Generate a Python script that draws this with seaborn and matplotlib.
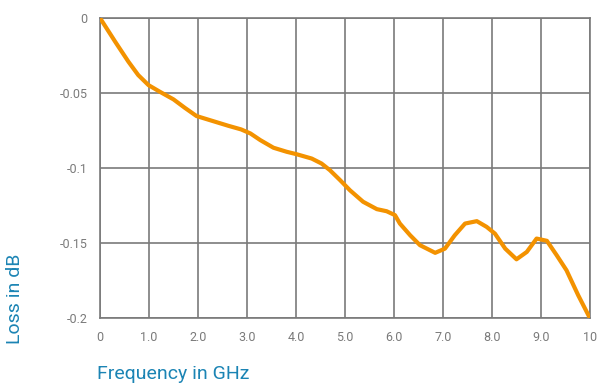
import matplotlib
matplotlib.use("Agg")
import matplotlib.pyplot as plt
import seaborn as sns
import pandas as pd

# Insertion loss measured over frequency
freq_ghz = [0.0, 0.31, 0.58, 0.78, 0.99, 1.22, 1.50, 1.73, 1.97, 2.28, 2.62, 2.88,
            3.07, 3.27, 3.54, 3.81, 4.01, 4.32, 4.52, 4.69, 4.90, 5.10, 5.37,
            5.65, 5.85, 6.02, 6.12, 6.33, 6.53, 6.84, 7.04, 7.24, 7.45, 7.69,
            7.89, 8.06, 8.27, 8.50, 8.71, 8.91, 9.12, 9.32, 9.52, 9.76, 10.0]
loss_db = [0.0, -0.0158, -0.0291, -0.038, -0.0447, -0.0491, -0.0542, -0.0598,
           -0.0653, -0.0684, -0.0718, -0.0742, -0.0769, -0.0813, -0.0864, -0.0891,
           -0.0907, -0.0936, -0.0969, -0.1013, -0.108, -0.1147, -0.1224, -0.1273,
           -0.1287, -0.1313, -0.1369, -0.1447, -0.1513, -0.1564, -0.1536, -0.1447,
           -0.1369, -0.1353, -0.1391, -0.1436, -0.1536, -0.1607, -0.1558, -0.1469,
           -0.1484, -0.158, -0.168, -0.1847, -0.2]

x_ticks = [0, 1, 2, 3, 4, 5, 6, 7, 8, 9, 10]
x_tick_labels = ["0", "1.0", "2.0", "3.0", "4.0", "5.0", "6.0", "7.0", "8.0", "9.0", "10"]
y_ticks = [0, -0.05, -0.1, -0.15, -0.2]
y_tick_labels = ["0", "-0.05", "-0.1", "-0.15", "-0.2"]

sns.set_theme(style="white")
plt.rcParams["font.family"] = ["Roboto", "DejaVu Sans"]

grid_col = "#7a7a7a"
text_col = "#7a7a7a"
label_col = "#1b84b4"
line_col = "#f39200"

fig = plt.figure(figsize=(6.0, 3.88), dpi=100)
ax = fig.add_axes([100 / 600, 1 - 318.3 / 388, 490 / 600, 300.3 / 388])

df = pd.DataFrame({"freq": freq_ghz, "loss": loss_db})
sns.lineplot(data=df, x="freq", y="loss", ax=ax, color=line_col, linewidth=3.0,
             solid_capstyle="round", solid_joinstyle="round", zorder=3)

ax.set_xlim(0, 10)
ax.set_ylim(-0.2, 0)
ax.set_xticks(x_ticks)
ax.set_xticklabels(x_tick_labels)
ax.set_yticks(y_ticks)
ax.set_yticklabels(y_tick_labels)
ax.grid(True, color=grid_col, linewidth=1.2)
ax.tick_params(axis="both", length=0, labelsize=9, labelcolor=text_col)
ax.tick_params(axis="x", pad=9)
ax.tick_params(axis="y", pad=9)
for sp in ax.spines.values():
    sp.set_color(grid_col)
    sp.set_linewidth(1.2)
ax.set_xlabel("")
ax.set_ylabel("")

fig.text(97 / 600, 1 - 374 / 388, "Frequency in GHz", color=label_col, fontsize=14,
         ha="left", va="center")
fig.text(15 / 600, 1 - 344 / 388, "Loss in dB", color=label_col, fontsize=14,
         rotation=90, ha="center", va="bottom")

fig.savefig("out.png", dpi=100, facecolor="white")
